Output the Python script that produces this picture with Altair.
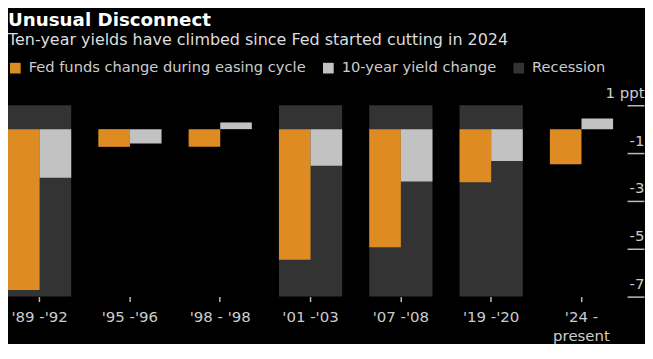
import altair as alt
import pandas as pd

periods = ["'89 -'92", "'95 -'96", "'98 - '98", "'01 -'03", "'07 -'08", "'19 -'20", "'24 -|present"]
fed_funds = [-6.72, -0.74, -0.74, -5.46, -4.94, -2.22, -1.47]
ten_year = [-2.03, -0.6, 0.28, -1.53, -2.19, -1.33, 0.44]
recession = [True, False, False, True, True, True, False]

s_fed = "Fed funds change during easing cycle"
s_ten = "10-year yield change"
s_rec = "Recession"

y_top = 1
y_bottom = -7
y_ticks = [1, -1, -3, -5, -7]

FONT = "DejaVu Sans"
ORANGE = "#DE8B24"
LGRAY = "#C2C2C2"
DGRAY = "#333333"

bars = pd.DataFrame(
    [{"period": p, "series": s_fed, "value": v} for p, v in zip(periods, fed_funds)]
    + [{"period": p, "series": s_ten, "value": v} for p, v in zip(periods, ten_year)]
)
rec = pd.DataFrame(
    [{"period": p, "series": s_rec, "top": y_top, "bottom": y_bottom} for p, r in zip(periods, recession) if r]
)

x_enc = alt.X(
    "period:N",
    scale=alt.Scale(domain=periods, paddingInner=0.3, paddingOuter=0),
    axis=alt.Axis(
        title=None, domain=False, ticks=True, tickSize=5, tickColor="#bbbbbb", tickWidth=1.5,
        labelAngle=0, labelColor="#cccccc", labelFontSize=15, labelFont=FONT, labelPadding=8,
        labelOverlap=False, labelFlush=False, labelLineHeight=19,
        labelExpr="split(datum.label, '|')",
    ),
)
y_scale = alt.Scale(domain=[y_bottom, y_top], nice=False, zero=False)
y_axis = alt.Axis(
    title=None, orient="right", domain=False, grid=False, values=y_ticks,
    tickSize=17, tickWidth=1.5, tickColor="#bbbbbb", offset=14,
    labelAlign="right", labelBaseline="alphabetic", labelOffset=-8, labelPadding=0,
    labelColor="#cccccc", labelFontSize=15, labelFont=FONT,
    labelExpr="datum.value == 1 ? '1 ppt' : '-' + abs(datum.value)",
)
color_enc = alt.Color(
    "series:N",
    scale=alt.Scale(domain=[s_fed, s_ten, s_rec], range=[ORANGE, LGRAY, DGRAY]),
    legend=alt.Legend(
        title=None, orient="top", direction="horizontal", symbolType="square",
        symbolSize=115, symbolStrokeWidth=0, labelFontSize=14.7, labelFont=FONT,
        labelColor="#cccccc", columnPadding=15, labelOffset=6, padding=0, offset=30,
        labelLimit=400,
    ),
)

rec_layer = alt.Chart(rec).mark_bar().encode(
    x=x_enc,
    y=alt.Y("top:Q", scale=y_scale, axis=y_axis),
    y2="bottom:Q",
    color=color_enc,
)
bar_layer = alt.Chart(bars).mark_bar().encode(
    x=x_enc,
    xOffset=alt.XOffset("series:N", scale=alt.Scale(domain=[s_fed, s_ten], paddingInner=0, paddingOuter=0)),
    y=alt.Y("value:Q", scale=y_scale, axis=y_axis),
    color=color_enc,
)

chart = (
    alt.layer(rec_layer, bar_layer)
    .properties(
        width=607,
        height=192,
        padding={"top": 2, "left": 0, "right": 0, "bottom": 0},
        background="black",
        title=alt.TitleParams(
            "Unusual Disconnect",
            subtitle="Ten-year yields have climbed since Fed started cutting in 2024",
            anchor="start", font=FONT, fontSize=18.3, fontWeight="bold", color="white",
            subtitleFont=FONT, subtitleFontSize=16, subtitleColor="#dddddd",
            subtitlePadding=2, offset=11,
        ),
    )
    .configure_view(stroke=None)
)

chart.save("out.html", embed_options={"renderer": "svg", "actions": False})
